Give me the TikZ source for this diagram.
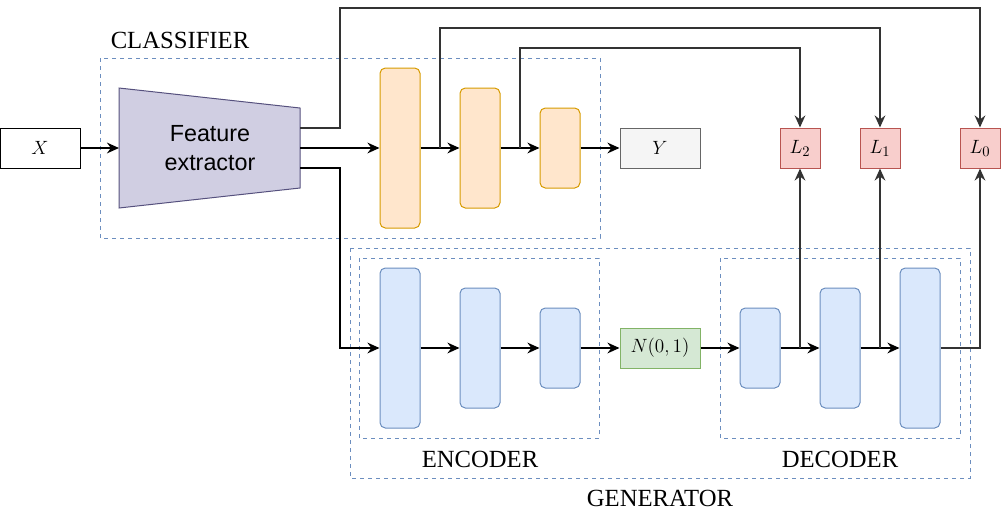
\documentclass[tikz,border=0pt]{standalone}
\usepackage{fontspec}
\setmainfont{Liberation Serif}
\newfontfamily\fesans{Liberation Sans}
\usetikzlibrary{arrows.meta}
\definecolor{orf}{HTML}{FFE6CC}\definecolor{ord}{HTML}{D79B00}
\definecolor{blf}{HTML}{DAE8FC}\definecolor{bld}{HTML}{6C8EBF}
\definecolor{grf}{HTML}{D5E8D4}\definecolor{grd}{HTML}{82B366}
\definecolor{rdf}{HTML}{F8CECC}\definecolor{rdd}{HTML}{B85450}
\definecolor{lvf}{HTML}{D0CEE2}\definecolor{lvd}{HTML}{56517E}
\definecolor{gyf}{HTML}{F5F5F5}\definecolor{gyd}{HTML}{666666}
\begin{document}
\begin{tikzpicture}[x=0.75pt,y=-0.75pt,
 blk/.style={draw,rounded corners=4pt,line width=0.75pt,minimum width=30pt,inner sep=0pt},
 orb/.style={blk,fill=orf,draw=ord},
 blb/.style={blk,fill=blf,draw=bld},
 sq/.style={draw,minimum width=60pt,minimum height=30pt,inner sep=0pt,line width=0.75pt,font=\fontsize{15}{18}\selectfont},
 lb/.style={sq,minimum width=30pt,fill=rdf,draw=rdd},
 grp/.style={draw=bld,dashed,line width=0.75pt},
 lab/.style={font=\fontsize{18.5}{22}\selectfont},
 ar/.style={-{Stealth[length=9pt,width=8pt]},line width=2pt},
 gar/.style={ar,draw=black!80}]
\useasboundingbox (0,0) rectangle (1001,519);
\draw[grp] (100,58) rectangle (600,238);
\draw[grp] (350,248) rectangle (970,478);
\draw[grp] (359,258) rectangle (599,438);
\draw[grp] (720,258) rectangle (960,438);
\node[lab] (tc) at (180,40) {CLASSIFIER};
\node[lab] (tg) at (660,498) {GENERATOR};
\node[lab] (te) at (480,459) {ENCODER};
\node[lab] (td) at (840,459) {DECODER};
\node[sq,fill=white] (x) at (40,148) {$X$};
\draw[fill=lvf,draw=lvd,line width=0.75pt] (119,88) -- (300,108) -- (300,188) -- (119,208) -- cycle;
\node[font=\fesans\fontsize{17.5}{22}\selectfont,align=center] (fe) at (210,148) {Feature\\extractor};
\coordinate (fel) at (119,148);
\coordinate (fem) at (300,148);
\coordinate (fet) at (300,128);
\coordinate (feb) at (300,168);
\node[orb,minimum height=120pt] (o1) at (400,148) {};
\node[orb,minimum height=90pt] (o2) at (480,148) {};
\node[orb,minimum height=60pt] (o3) at (560,148) {};
\node[sq,fill=gyf,draw=gyd] (y) at (660,148) {$Y$};
\node[lb] (l2) at (800,148) {$L_2$};
\node[lb] (l1) at (880,148) {$L_1$};
\node[lb] (l0) at (980,148) {$L_0$};
\node[blb,minimum height=120pt] (e1) at (400,348) {};
\node[blb,minimum height=90pt] (e2) at (480,348) {};
\node[blb,minimum height=60pt] (e3) at (560,348) {};
\node[sq,fill=grf,draw=grd] (n) at (660,348) {$N(0,1)$};
\node[blb,minimum height=60pt] (d1) at (760,348) {};
\node[blb,minimum height=90pt] (d2) at (840,348) {};
\node[blb,minimum height=120pt] (d3) at (920,348) {};
\draw[ar] (x) -- (fel);
\draw[ar] (fem) -- (o1);
\draw[ar] (o1) -- (o2);
\draw[ar] (o2) -- (o3);
\draw[ar] (o3) -- (y);
\draw[gar] (fet) -- (340,128) -- (340,8) -- (980,8) -- (l0);
\draw[gar] (440,148) -- (440,28) -- (880,28) -- (l1);
\draw[gar] (520,148) -- (520,48) -- (800,48) -- (l2);
\draw[ar] (feb) -- (340,168) -- (340,348) -- (e1);
\draw[ar] (e1) -- (e2);
\draw[ar] (e2) -- (e3);
\draw[ar] (e3) -- (n);
\draw[ar] (n) -- (d1);
\draw[ar] (d1) -- (d2);
\draw[ar] (d2) -- (d3);
\draw[gar] (800,348) -- (l2);
\draw[gar] (880,348) -- (l1);
\draw[gar] (d3.east) -- (980,348) -- (l0);
\end{tikzpicture}
\end{document}
